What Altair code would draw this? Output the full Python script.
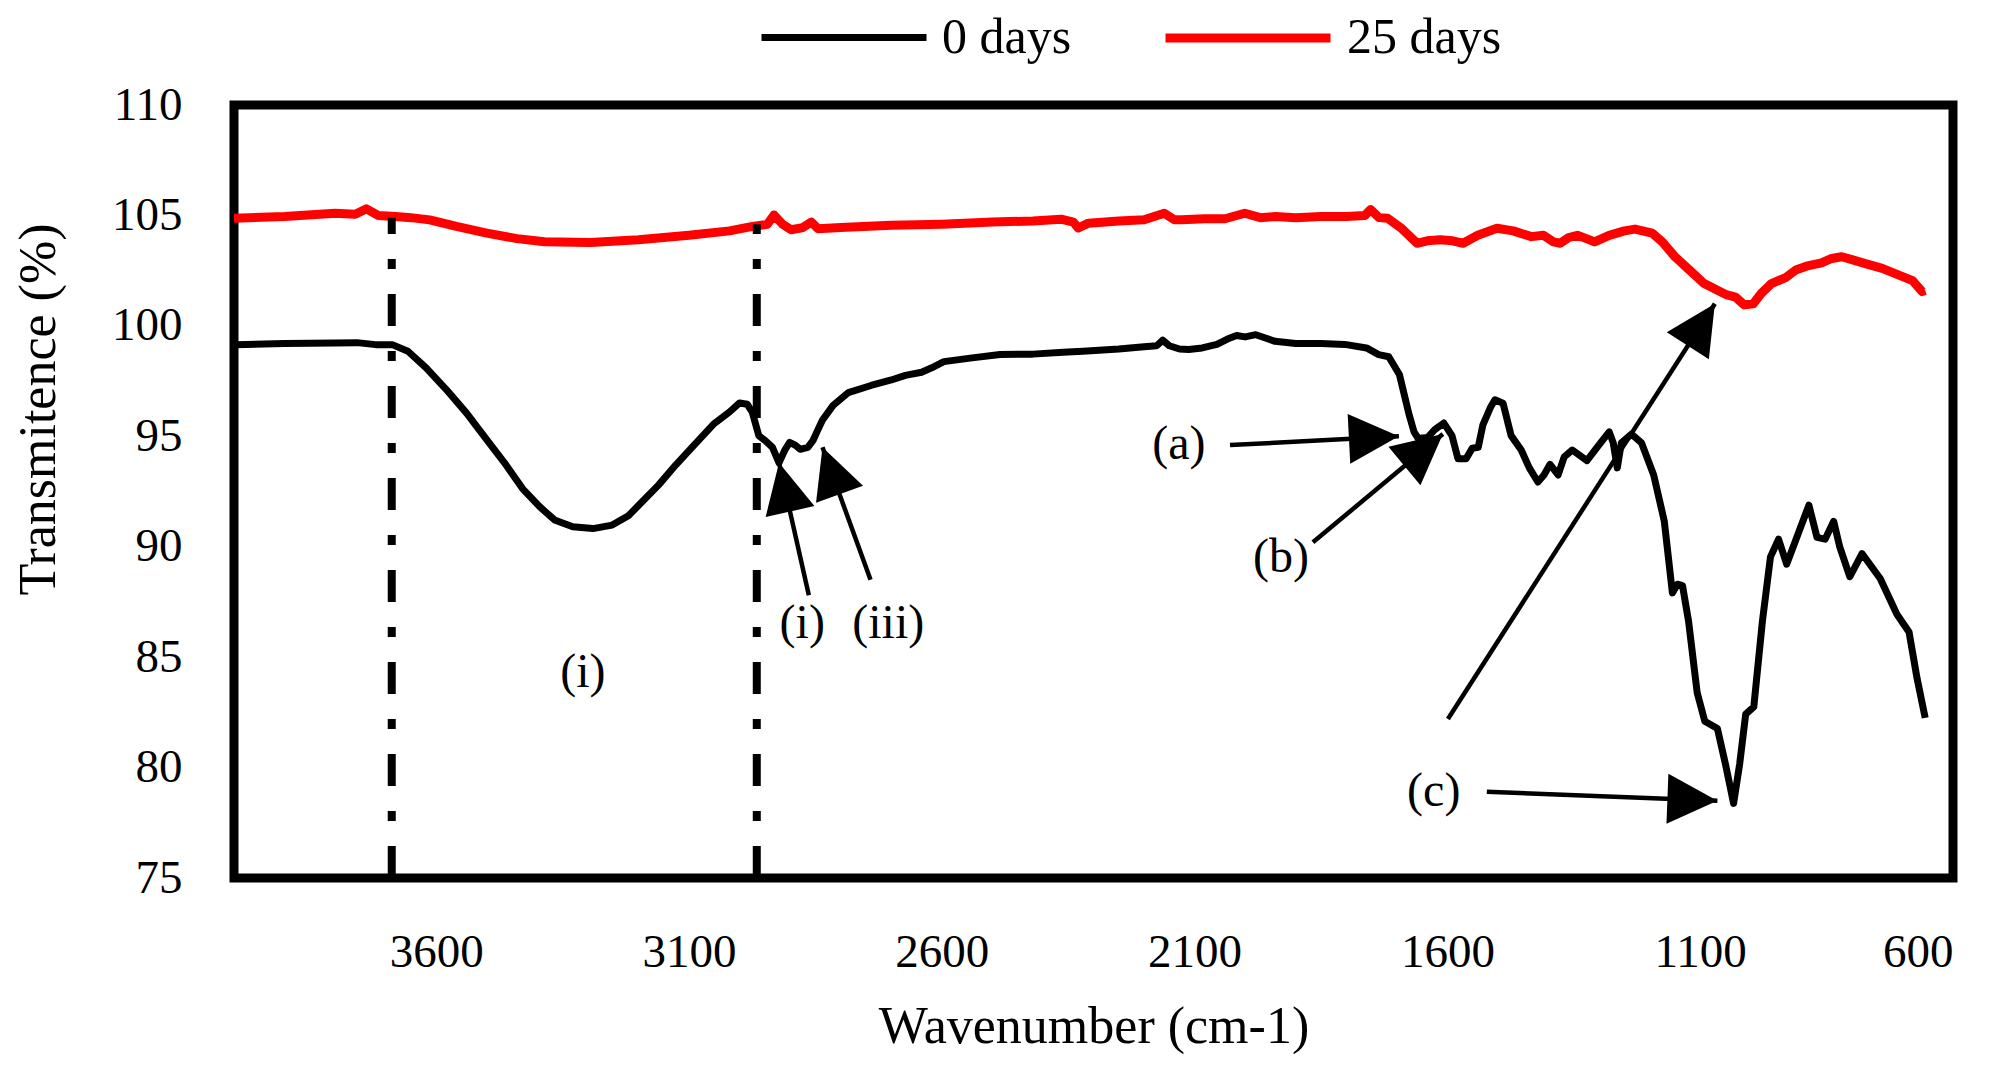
import math
import altair as alt
import pandas as pd

# FTIR spectrum, 0 days (wavenumber cm-1, transmittance %)
wn_0 = [3998, 3900, 3800, 3757, 3720, 3687, 3656, 3620, 3581, 3540, 3504, 3465,
        3429, 3395, 3366, 3330, 3290, 3252, 3220, 3201, 3160, 3126, 3090, 3050,
        3020, 3000, 2985, 2975, 2962, 2949, 2935, 2922, 2910, 2901, 2890, 2880,
        2865, 2855, 2845, 2836, 2815, 2785, 2740, 2700, 2672, 2640, 2620, 2596,
        2540, 2485, 2420, 2360, 2321, 2250, 2200, 2175, 2163, 2150, 2130, 2112,
        2085, 2056, 2035, 2017, 2000, 1979, 1960, 1941, 1900, 1850, 1803, 1760,
        1736, 1716, 1695, 1676, 1666, 1658, 1639, 1625, 1607, 1591, 1579, 1563,
        1551, 1539, 1530, 1515, 1506, 1490, 1474, 1454, 1438, 1421, 1409, 1397,
        1381, 1369, 1353, 1324, 1304, 1280, 1272, 1264, 1256, 1236, 1216, 1192,
        1171, 1155, 1145, 1135, 1123, 1106, 1091, 1066, 1050, 1034, 1022, 1010,
        994, 977, 961, 945, 929, 905, 885, 869, 853, 836, 824, 804, 780, 744,
        711, 687, 671, 655]
t_0 = [99.15, 99.2, 99.22, 99.24, 99.15, 99.15, 98.85, 98.1, 97.14, 96.05, 94.96, 93.8,
       92.62, 91.8, 91.21, 90.9, 90.82, 90.98, 91.4, 91.84, 92.8, 93.71, 94.6, 95.58,
       96.1, 96.51, 96.45, 96.1, 95.03, 94.8, 94.5, 93.8, 94.4, 94.72, 94.6, 94.41,
       94.5, 94.8, 95.3, 95.74, 96.4, 96.98, 97.3, 97.55, 97.76, 97.9, 98.1, 98.38,
       98.55, 98.7, 98.72, 98.8, 98.85, 98.95, 99.05, 99.1, 99.35, 99.1, 98.95, 98.93,
       99.0, 99.16, 99.4, 99.56, 99.5, 99.6, 99.45, 99.3, 99.2, 99.2, 99.16, 99.0,
       98.7, 98.6, 97.8, 96.0, 95.2, 94.9, 94.95, 95.3, 95.6, 95.03, 93.98, 93.98,
       94.46, 94.5, 95.5, 96.3, 96.65, 96.5, 95.03, 94.38, 93.57, 92.93, 93.25, 93.73,
       93.25, 94.07, 94.38, 93.9, 94.5, 95.2, 94.7, 93.57, 94.7, 95.1, 94.7, 93.25,
       91.15, 87.91, 88.3, 88.24, 86.62, 83.39, 82.1, 81.77, 80.15, 78.38, 80.15, 82.42,
       82.75, 86.62, 89.54, 90.34, 89.21, 90.67, 91.88, 90.42, 90.34, 91.15, 89.99, 88.64, 89.69, 88.56,
       86.94, 86.14, 84.03, 82.25]

# FTIR spectrum, 25 days
wn_25 = [4000, 3900, 3800, 3760, 3738, 3715, 3680, 3650, 3613, 3560, 3500, 3440,
         3386, 3295, 3200, 3100, 3020, 2977, 2945, 2932, 2915, 2898, 2875, 2858,
         2845, 2800, 2700, 2600, 2500, 2420, 2364, 2340, 2330, 2310, 2250, 2200,
         2160, 2140, 2126, 2080, 2040, 2001, 1970, 1940, 1900, 1850, 1800, 1763,
         1752, 1735, 1718, 1690, 1660, 1640, 1614, 1590, 1569, 1540, 1502, 1470,
         1434, 1410, 1390, 1377, 1360, 1343, 1325, 1309, 1280, 1250, 1229, 1195,
         1175, 1150, 1120, 1093, 1065, 1047, 1030, 1013, 995, 979, 960, 930,
         911, 890, 860, 840, 820, 800, 775, 740, 707, 680, 661, 655]
t_25 = [104.87, 104.95, 105.1, 105.05, 105.3, 105.0, 104.95, 104.9, 104.8, 104.5, 104.2, 103.95,
        103.81, 103.77, 103.9, 104.1, 104.3, 104.49, 104.6, 105.02, 104.6, 104.35, 104.45, 104.7,
        104.4, 104.45, 104.55, 104.6, 104.7, 104.75, 104.83, 104.7, 104.43, 104.65, 104.75, 104.8,
        105.1, 104.8, 104.8, 104.85, 104.85, 105.1, 104.9, 104.95, 104.9, 104.95, 104.95, 105.0,
        105.27, 104.9, 104.87, 104.4, 103.74, 103.85, 103.9, 103.85, 103.74, 104.1, 104.42, 104.3,
        104.04, 104.1, 103.8, 103.74, 104.0, 104.1, 103.95, 103.8, 104.1, 104.3, 104.38, 104.2,
        103.8, 103.13, 102.5, 101.93, 101.6, 101.4, 101.3, 100.95, 101.0, 101.48, 101.9, 102.2,
        102.53, 102.7, 102.85, 103.05, 103.13, 103.0, 102.83, 102.6, 102.3, 102.05, 101.55, 101.6]

series_names = ["0 days", "25 days"]
series_colors = ["#000000", "#ff0000"]
series_widths = [7, 9]

x_ticks = [3600, 3100, 2600, 2100, 1600, 1100, 600]
y_ticks = [75, 80, 85, 90, 95, 100, 105, 110]

# dash-dot marker lines
marker_wn = [3688, 2966]
marker_top = [104.9, 104.6]

# peak labels
label_text = ["(i)", "(i)", "(iii)", "(a)", "(b)", "(c)"]
label_wn = [3310, 2876, 2706, 2131, 1929, 1627]
label_t = [84.3, 86.5, 86.5, 94.6, 89.5, 78.9]

# arrows: start -> tip
arrow_wn0 = [2863, 2741, 2030, 1866, 1522, 1599]
arrow_t0 = [87.8, 88.5, 94.6, 90.2, 78.9, 82.2]
arrow_wn1 = [2922, 2836, 1696, 1609, 1066, 1071]
arrow_t1 = [93.8, 94.5, 95.0, 95.1, 78.5, 101.0]

W, H = 1719, 773
X_MIN, X_MAX = 600, 4000
Y_MIN, Y_MAX = 75, 110
FONT = "Liberation Serif"

spec = pd.concat([
    pd.DataFrame({"wn": wn_0, "t": t_0, "series": series_names[0]}),
    pd.DataFrame({"wn": wn_25, "t": t_25, "series": series_names[1]}),
])

markers = pd.DataFrame({"wn": marker_wn, "top": marker_top, "bottom": Y_MIN})
labels = pd.DataFrame({"wn": label_wn, "t": label_t, "text": label_text})

arrows = pd.DataFrame({"wn0": arrow_wn0, "t0": arrow_t0, "wn1": arrow_wn1, "t1": arrow_t1})
# head direction in screen space (x axis is reversed)
sx = W / (X_MAX - X_MIN)
sy = H / (Y_MAX - Y_MIN)
arrows["angle"] = [
    math.degrees(math.atan2(-(b - a) * sx, (d - c) * sy)) % 360
    for a, b, c, d in zip(arrows.wn0, arrows.wn1, arrows.t0, arrows.t1)
]

x_scale = alt.Scale(domain=[X_MIN, X_MAX], reverse=True, nice=False, zero=False)
y_scale = alt.Scale(domain=[Y_MIN, Y_MAX], nice=False, zero=False)

lines = alt.Chart(spec).mark_line(strokeJoin="round").encode(
    x=alt.X("wn:Q", scale=x_scale, title="Wavenumber (cm-1)",
            axis=alt.Axis(values=x_ticks, format="d", labelPadding=51, titlePadding=26,
                          labelFont=FONT)),
    y=alt.Y("t:Q", scale=y_scale, title="Transmitence (%)",
            axis=alt.Axis(values=y_ticks, format="d", labelPadding=52, titleX=-169, titleY=304,
                          labelFont=FONT)),
    color=alt.Color("series:N",
                    scale=alt.Scale(domain=series_names, range=series_colors),
                    legend=alt.Legend(title=None, orient="none", legendX=524, legendY=-154,
                                      direction="horizontal", symbolType="stroke",
                                      symbolSize=27225, symbolStrokeWidth=8,
                                      labelOffset=12, columnPadding=75, padding=0)),
    strokeWidth=alt.StrokeWidth("series:N",
                                scale=alt.Scale(domain=series_names, range=series_widths),
                                legend=None),
)

dash_lines = alt.Chart(markers).mark_rule(
    color="black", strokeWidth=8, strokeDash=[32, 25, 10, 25]
).encode(x=alt.X("wn:Q", scale=x_scale), y="bottom:Q", y2="top:Q")

arrow_lines = alt.Chart(arrows).mark_rule(color="black", strokeWidth=4.5).encode(
    x=alt.X("wn0:Q", scale=x_scale), x2="wn1:Q", y="t0:Q", y2="t1:Q"
)

arrow_heads = alt.Chart(arrows).mark_point(
    shape="M0,0L-0.5,1L0.5,1Z", filled=True, size=10000, color="black", opacity=1
).encode(
    x=alt.X("wn1:Q", scale=x_scale), y="t1:Q",
    angle=alt.Angle("angle:Q", scale=None),
)

texts = alt.Chart(labels).mark_text(font=FONT, fontSize=48, color="black").encode(
    x=alt.X("wn:Q", scale=x_scale), y="t:Q", text="text:N"
)

chart = alt.layer(lines, dash_lines, arrow_lines, arrow_heads, texts).properties(
    width=W, height=H,
    autosize=alt.AutoSizeParams(type="none"),
    padding={"left": 226, "top": 97, "right": 40, "bottom": 185},
).configure(
    font=FONT
).configure_view(
    stroke="black", strokeWidth=9
).configure_axis(
    labelFontSize=47, labelColor="black",
    titleFont=FONT, titleFontSize=52, titleFontWeight="normal", titleColor="black",
    domain=False, ticks=False, tickSize=0, grid=False,
).configure_legend(
    labelFont=FONT, labelFontSize=50, labelColor="black"
)

chart.save("out.html", embed_options={"renderer": "svg", "actions": False})
